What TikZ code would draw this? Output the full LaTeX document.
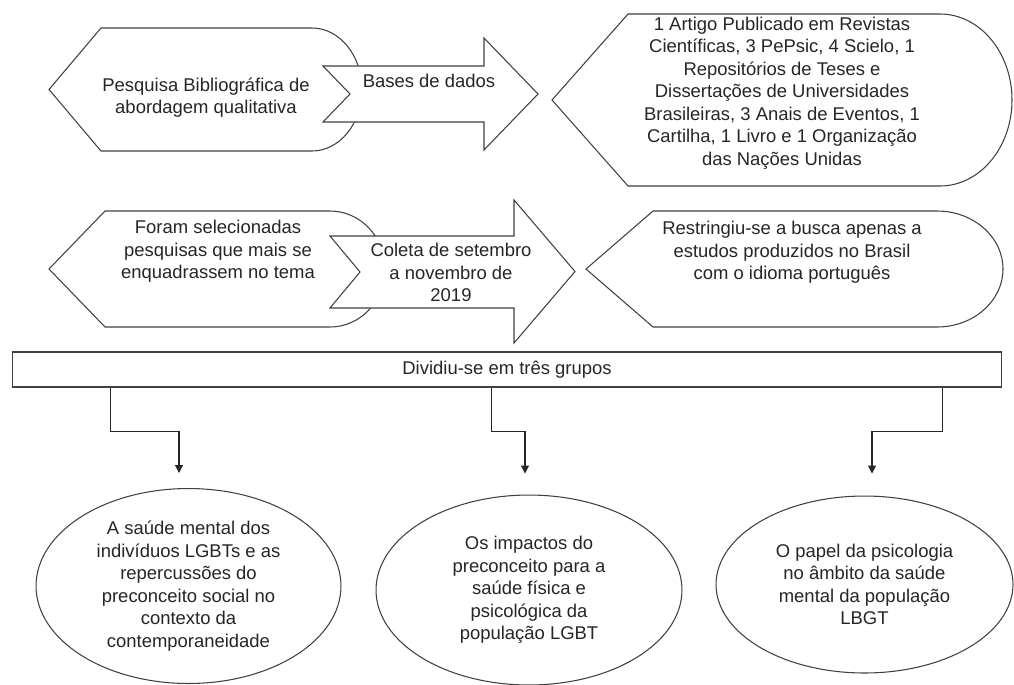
\documentclass[tikz,border=0pt]{standalone}
\usepackage{fontspec}
\setmainfont{Liberation Sans}
\usetikzlibrary{shapes.geometric,arrows.meta}

\tikzset{
  contorno/.style={draw=black!75, line width=0.6pt, fill=white},
  texto/.style={align=center, font=\fontsize{10.5}{12.8}\selectfont, text=black!85, inner sep=0pt},
  grupo/.style={contorno, ellipse, texto},
  seta/.style={draw=black!85, line width=0.6pt, -{Triangle[width=4.5pt,length=4.5pt]}}
}

\begin{document}
\begin{tikzpicture}[x=0.02cm, y=-0.02cm]
\useasboundingbox (0,0) rectangle (1014,684);

% primeira linha
\draw[contorno] (49,89.5) -- (101,28) -- (312,28) arc[start angle=-90, end angle=90, x radius=50, y radius=61.5] -- (101,151) -- cycle;
\draw[contorno] (323,66) -- (484,66) -- (484,38) -- (538,94) -- (484,150) -- (484,122) -- (323,122) -- (350,94) -- cycle;
\draw[contorno] (552,100) -- (628,14) -- (940,14) arc[start angle=-90, end angle=90, x radius=72, y radius=86] -- (628,186) -- cycle;
\node[texto] (pesquisa) at (206,97.5) {Pesquisa Bibliográfica de\\abordagem qualitativa};
\node[texto] (bases) at (429,81) {Bases de dados};
\node[texto] (artigo) at (782,93) {1 Artigo Publicado em Revistas\\Científicas, 3 PePsic, 4 Scielo, 1\\Repositórios de Teses e\\Dissertações de Universidades\\Brasileiras, 3 Anais de Eventos, 1\\Cartilha, 1 Livro e 1 Organização\\das Nações Unidas};

% segunda linha
\draw[contorno] (49,269) -- (105,211) -- (330,211) arc[start angle=-90, end angle=90, x radius=55, y radius=58] -- (105,327) -- cycle;
\draw[contorno] (330,236) -- (514,236) -- (514,200) -- (575,271.5) -- (514,343) -- (514,308) -- (330,308) -- (360,272) -- cycle;
\draw[contorno] (586,269) -- (653,211) -- (937,211) arc[start angle=-90, end angle=90, x radius=66, y radius=58] -- (653,327) -- cycle;
\node[texto] (selecao) at (218,251.5) {Foram selecionadas\\pesquisas que mais se\\enquadrassem no tema};
\node[texto] (coleta) at (451,272.5) {Coleta de setembro\\a novembro de\\2019};
\node[texto] (restricao) at (792,252.5) {Restringiu-se a busca apenas a\\estudos produzidos no Brasil\\com o idioma português};

% grupos
\node[contorno, texto, minimum width=19.8cm, minimum height=0.7cm] (grupos) at (507,369.5) {Dividiu-se em três grupos};

\node[grupo, minimum width=6.1cm, minimum height=3.9cm] (e1) at (188.5,586) {A saúde mental dos\\indivíduos LGBTs e as\\repercussões do\\preconceito social no\\contexto da\\contemporaneidade};
\node[grupo, minimum width=6.12cm, minimum height=3.8cm] (e2) at (529,590) {Os impactos do\\preconceito para a\\saúde física e\\psicológica da\\população LGBT};
\node[grupo, minimum width=5.94cm, minimum height=3.54cm] (e3) at (864.5,584.5) {O papel da psicologia\\no âmbito da saúde\\mental da população\\LBGT};

\coordinate (s1) at ([xshift=1.98cm]grupos.south west);
\coordinate (s2) at ([xshift=9.6cm]grupos.south west);
\coordinate (s3) at ([xshift=18.62cm]grupos.south west);
\draw[seta, shorten >=0.3cm] (s1) -- ++(0,44) -| ([xshift=-0.19cm]e1.north);
\draw[seta, shorten >=0.42cm] (s2) -- ++(0,44) -| ([xshift=-0.08cm]e2.north);
\draw[seta, shorten >=0.44cm] (s3) -- ++(0,44) -| ([xshift=0.15cm]e3.north);
\end{tikzpicture}
\end{document}
